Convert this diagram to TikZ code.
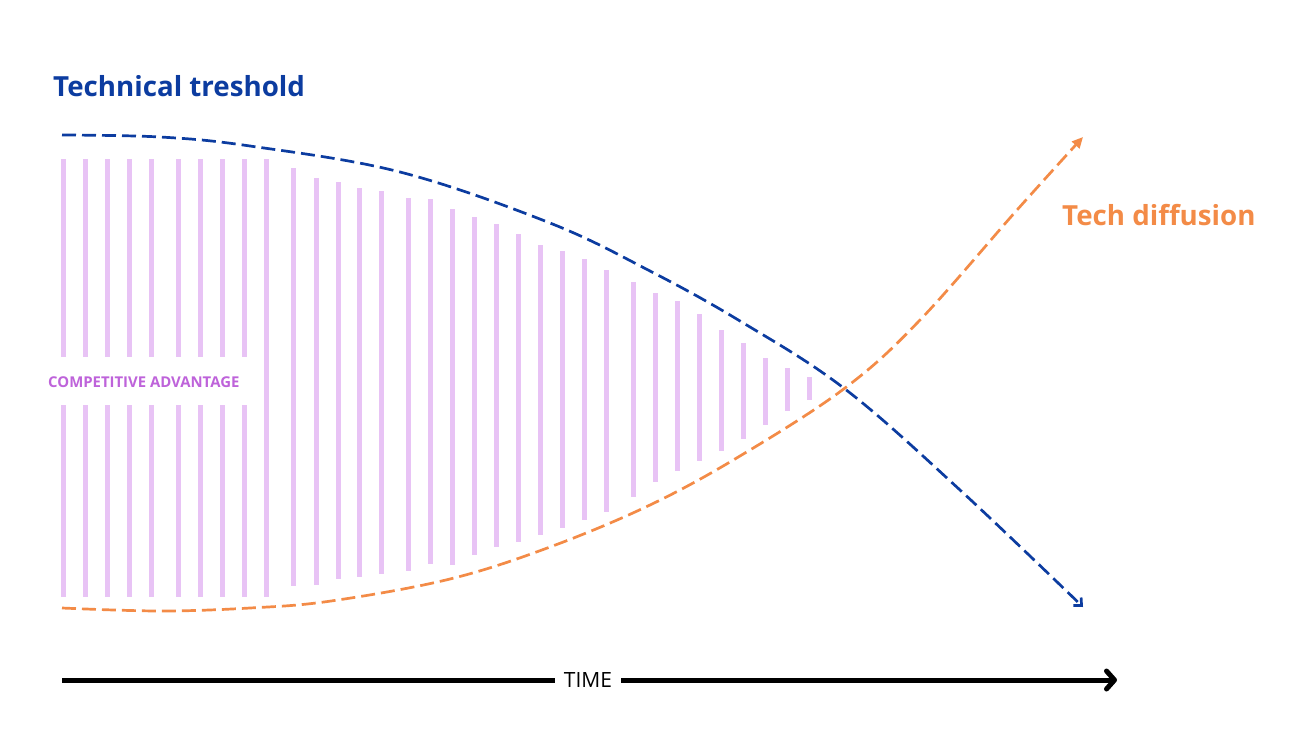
\documentclass[tikz,border=0pt]{standalone}
\usepackage{fontspec}
\setmainfont{Open Sans}
\usetikzlibrary{arrows.meta}
\definecolor{tblue}{HTML}{0C3CA0}
\definecolor{torange}{HTML}{F38B47}
\definecolor{tbar}{HTML}{E8C3F5}
\definecolor{tpurple}{HTML}{BE63DA}
\begin{document}
\begin{tikzpicture}[x=1pt,y=-1pt,
  barline/.style={draw=tbar,line width=5pt},
  curveline/.style={line width=2.7pt,dash pattern=on 14pt off 6pt},
  label/.style={inner sep=0pt,anchor=base west,font=\bfseries\fontsize{27.7}{34}\selectfont}]
\useasboundingbox (0,0) rectangle (1292,747);
% bars with a gap for the label
\foreach \x in {63,85,107,129,151,178,200,222,244}{
  \draw[barline] (\x,159) -- (\x,357);
  \draw[barline] (\x,405) -- (\x,597);
}
% continuous bars
\foreach \x/\t/\b in {266/159/597,293/168/586,316/178/585,338/182/579,359/188/577,381/191/574,
  408/198/571,430/199/564,452/209/565,474/217/555,496/224/547,518/234/542,540/245/535,
  562/251/528,584/259/520,606/270/512,633/282/497,655/293/482,677/301/471,699/314/461,
  721/330/451,743/343/439,765/358/425,787/368/411,809/377/400}{
  \draw[barline] (\x,\t) -- (\x,\b);
}
% technical threshold curve
\draw[curveline,draw=tblue,-{Straight Barb[length=6pt,width=11pt,line width=2.7pt]}]
  plot[smooth,tension=0.6] coordinates {(62,135) (160,137) (250,146) (400,172) (550,223) (650,271) (740,321) (845,389) (960,490) (1083,607)};
% tech diffusion curve
\draw[curveline,draw=torange,-{Triangle[length=11pt,width=10pt]}]
  plot[smooth,tension=0.6] coordinates {(62,608) (160,611) (250,608) (331,601) (450,579) (550,547) (650,505) (740,456) (845,388) (920,320) (1017,210) (1083,137)};
% labels
\node[label,text=tblue] (tt) at (53,96) {Technical treshold};
\node[label,text=torange] (td) at (1062,225) {Tech diffusion};
\node[inner sep=0pt,anchor=base west,text=tpurple,font=\bfseries\fontsize{14.9}{18}\selectfont] (ca) at (48,387) {COMPETITIVE ADVANTAGE};
% time axis
\node[inner sep=0pt,font=\fontsize{21}{25}\selectfont] (time) at (588,680) {TIME};
\coordinate (ts) at (62,680);
\coordinate (te) at (1117,680);
\draw[line width=5pt] (ts) -- ([xshift=-9pt]time.west);
\draw[line width=5pt,-{Straight Barb[length=8pt,width=18pt,round]}] ([xshift=9pt]time.east) -- (te);
\end{tikzpicture}
\end{document}
